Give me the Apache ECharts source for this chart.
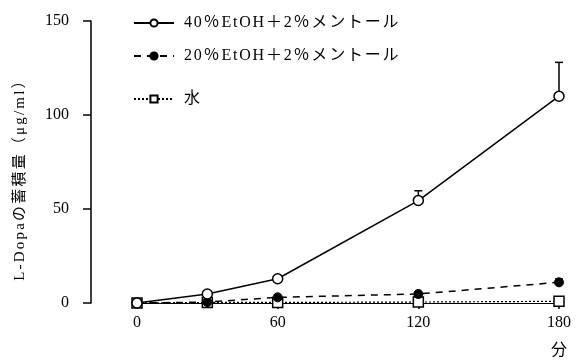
<!DOCTYPE html>
<html>
<head>
<meta charset="utf-8">
<script src="https://cdn.jsdelivr.net/npm/echarts@6/dist/echarts.min.js"></script>
<style>
  html, body { margin: 0; padding: 0; background: #fff; }
  #chart { width: 578px; height: 360px; }
</style>
</head>
<body>
<div id="chart"></div>
<script>
// Sampling times (minutes)
const times = [0, 30, 60, 120, 180];
const xTicks = [0, 60, 120, 180];
const yTicks = [0, 50, 100, 150];

// Cumulative L-Dopa (µg/ml)
const ethanol40 = [0, 4.8, 12.9, 54.5, 110];
const ethanol20 = [0, 0.5, 3, 4.8, 11];
const water = [0, 0.3, 0.3, 0.5, 0.9];

// Upper error bar ends (time, value, top)
const errEthanol40 = [[120, 54.5, 59.7], [180, 110, 128]];
const errEthanol20 = [[180, 11, 12.8]];

const names = ['40％EtOH＋2％メントール', '20％EtOH＋2％メントール', '水'];
const yTitle = 'L-Dopaの蓄積量（μg/ml）';

const SERIF = '"Liberation Serif", "DejaVu Serif", "Noto Sans CJK JP", serif';

function pairs(ys) { return times.map((t, i) => [t, ys[i]]); }

// Wrap each character in a rich token so the text can be set with a little tracking
function spaced(str) {
  return Array.from(str).map(ch => '{c|' + ch + '}').join('');
}

function errorBars(data, capW) {
  return {
    type: 'custom',
    silent: true,
    z: 1,
    data: data,
    renderItem: function (params, api) {
      const base = api.coord([api.value(0), api.value(1)]);
      const top = api.coord([api.value(0), api.value(2)]);
      return {
        type: 'group',
        children: [
          { type: 'line', shape: { x1: base[0], y1: base[1], x2: top[0], y2: top[1] },
            style: { stroke: '#000', lineWidth: 1.5 } },
          { type: 'line', shape: { x1: top[0] - capW / 2, y1: top[1], x2: top[0] + capW / 2, y2: top[1] },
            style: { stroke: '#000', lineWidth: 1.5 } }
        ]
      };
    }
  };
}

const chart = echarts.init(document.getElementById('chart'), null, { renderer: 'canvas' });

const legendBase = {
  orient: 'vertical',
  left: 128,
  itemWidth: 40,
  itemHeight: 9,
  itemGap: 10,
  formatter: function (name) { return spaced(name); },
  textStyle: {
    fontFamily: SERIF, fontSize: 16, color: '#000', padding: [0, 0, 0, 5],
    rich: { c: { fontFamily: SERIF, fontSize: 16, color: '#000', padding: [0, 1.8, 0, 0] } }
  },
  inactiveColor: '#000',
  selectedMode: false
};

chart.setOption({
  animation: false,
  backgroundColor: '#fff',
  grid: { left: 137, right: 19, top: 21, bottom: 57, containLabel: false },
  legend: [
    Object.assign({}, legendBase, { top: 10, data: [names[0]] }),
    Object.assign({}, legendBase, { top: 43, data: [names[1]] }),
    Object.assign({}, legendBase, { top: 86, data: [names[2]] })
  ],
  xAxis: {
    type: 'value',
    min: 0,
    max: 180,
    interval: 60,
    axisLine: { show: true, onZero: false, lineStyle: { color: '#000', width: 1 } },
    axisTick: { show: true, inside: false, length: 6, lineStyle: { color: '#000', width: 1.5 } },
    axisLabel: {
      color: '#000', fontFamily: SERIF, fontSize: 16, margin: 12,
      formatter: function (v) { return xTicks.indexOf(v) >= 0 ? String(v) : ''; }
    },
    splitLine: { show: false },
    name: '分',
    nameLocation: 'end',
    nameGap: 0,
    nameTextStyle: { color: '#000', fontFamily: SERIF, fontSize: 16, align: 'center', verticalAlign: 'top', padding: [40, 0, 0, 0] }
  },
  yAxis: {
    type: 'value',
    min: 0,
    max: 150,
    interval: 50,
    offset: 46,
    axisLine: { show: true, onZero: false, lineStyle: { color: '#000', width: 1.5 } },
    axisTick: { show: true, inside: false, length: 8, lineStyle: { color: '#000', width: 1.5 } },
    axisLabel: {
      color: '#000', fontFamily: SERIF, fontSize: 16, margin: 22,
      formatter: function (v) { return yTicks.indexOf(v) >= 0 ? String(v) : ''; }
    },
    splitLine: { show: false }
  },
  graphic: [
    {
      type: 'text',
      x: 20,
      y: 176,
      rotation: Math.PI / 2,
      style: {
        text: spaced(yTitle),
        font: '15px ' + SERIF,
        fill: '#000',
        align: 'center',
        verticalAlign: 'middle',
        rich: { c: { font: '15px ' + SERIF, fill: '#000', padding: [0, 2.2, 0, 0] } }
      }
    }
  ],
  series: [
    errorBars(errEthanol40, 8),
    errorBars(errEthanol20, 8),
    {
      name: names[2],
      type: 'line',
      z: 3,
      data: pairs(water),
      symbol: 'rect',
      symbolSize: 10,
      showSymbol: true,
      lineStyle: { color: '#000', width: 1.2, type: [2, 2] },
      itemStyle: { color: '#fff', borderColor: '#000', borderWidth: 1.5 }
    },
    {
      name: names[1],
      type: 'line',
      z: 4,
      data: pairs(ethanol20),
      symbol: 'circle',
      symbolSize: 9,
      lineStyle: { color: '#000', width: 1.5, type: [7, 6] },
      itemStyle: { color: '#000', borderColor: '#000', borderWidth: 1 }
    },
    {
      name: names[0],
      type: 'line',
      z: 5,
      data: pairs(ethanol40),
      symbol: 'circle',
      symbolSize: 10,
      lineStyle: { color: '#000', width: 1.5 },
      itemStyle: { color: '#fff', borderColor: '#000', borderWidth: 1.5 }
    }
  ]
});
</script>
</body>
</html>
